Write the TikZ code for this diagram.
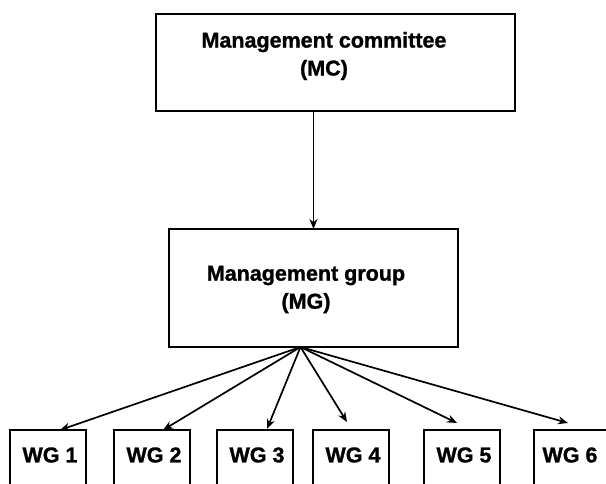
\documentclass[tikz,border=0pt]{standalone}
\usepackage{fontspec}
\setmainfont{Liberation Sans}[BoldFeatures={FakeBold=1.2}]
\usetikzlibrary{arrows.meta}
\tikzset{
  box/.style={draw=black, line width=1.8pt, inner sep=0pt, outer sep=0pt, fill=none},
  lbl/.style={font=\fontsize{21.5}{28}\selectfont\bfseries, align=center, inner sep=0pt},
  arr/.style={line width=1.7pt, -{Stealth[length=10pt,width=8pt]}},
  wgbox/.style={box, minimum width=76pt, minimum height=90pt, anchor=north}
}
\begin{document}
\begin{tikzpicture}[x=1pt,y=-1pt]
\useasboundingbox (0,0) rectangle (606,483);
\clip (0,0) rectangle (606,483);
\fill[white] (0,0) rectangle (606,483);
% top boxes
\node[box, minimum width=359pt, minimum height=97pt] (mc) at (335.5,62.5) {};
\node[lbl] (mctext) at (324,56) {Management committee\\(MC)};
\node[box, minimum width=289pt, minimum height=118pt] (mg) at (313.5,288) {};
\node[lbl] (mgtext) at (306,289.5) {Management group\\(MG)};
% working groups
\node[wgbox] (w1) at (48,430) {};
\node[wgbox] (w2) at (152,430) {};
\node[wgbox] (w3) at (255,430) {};
\node[wgbox] (w4) at (351,430) {};
\node[wgbox] (w5) at (462,430) {};
\node[wgbox] (w6) at (572,430) {};
\node[lbl] (t1) at ([xshift=2pt,yshift=-25pt]w1.north) {WG 1};
\node[lbl] (t2) at ([xshift=2pt,yshift=-25pt]w2.north) {WG 2};
\node[lbl] (t3) at ([xshift=2pt,yshift=-25pt]w3.north) {WG 3};
\node[lbl] (t4) at ([xshift=2pt,yshift=-25pt]w4.north) {WG 4};
\node[lbl] (t5) at ([xshift=2pt,yshift=-25pt]w5.north) {WG 5};
\node[lbl] (t6) at ([xshift=-2pt,yshift=-25pt]w6.north) {WG 6};
% connectors
\draw[arr] (mc.south -| mg.north) -- (mg.north);
\coordinate (fan) at ([xshift=-13pt]mg.south);
\coordinate (e1) at ([xshift=12pt]w1.north);
\coordinate (e2) at ([xshift=11pt]w2.north);
\coordinate (e3) at ([xshift=12pt,yshift=1pt]w3.north);
\coordinate (e4) at ([xshift=-4pt,yshift=8pt]w4.north);
\coordinate (e5) at ([xshift=-5pt,yshift=7pt]w5.north);
\coordinate (e6) at ([xshift=-4pt,yshift=7pt]w6.north);
\foreach \e in {e1,e2,e3,e4,e5,e6} \draw[arr] (fan) -- (\e);
\end{tikzpicture}
\end{document}
